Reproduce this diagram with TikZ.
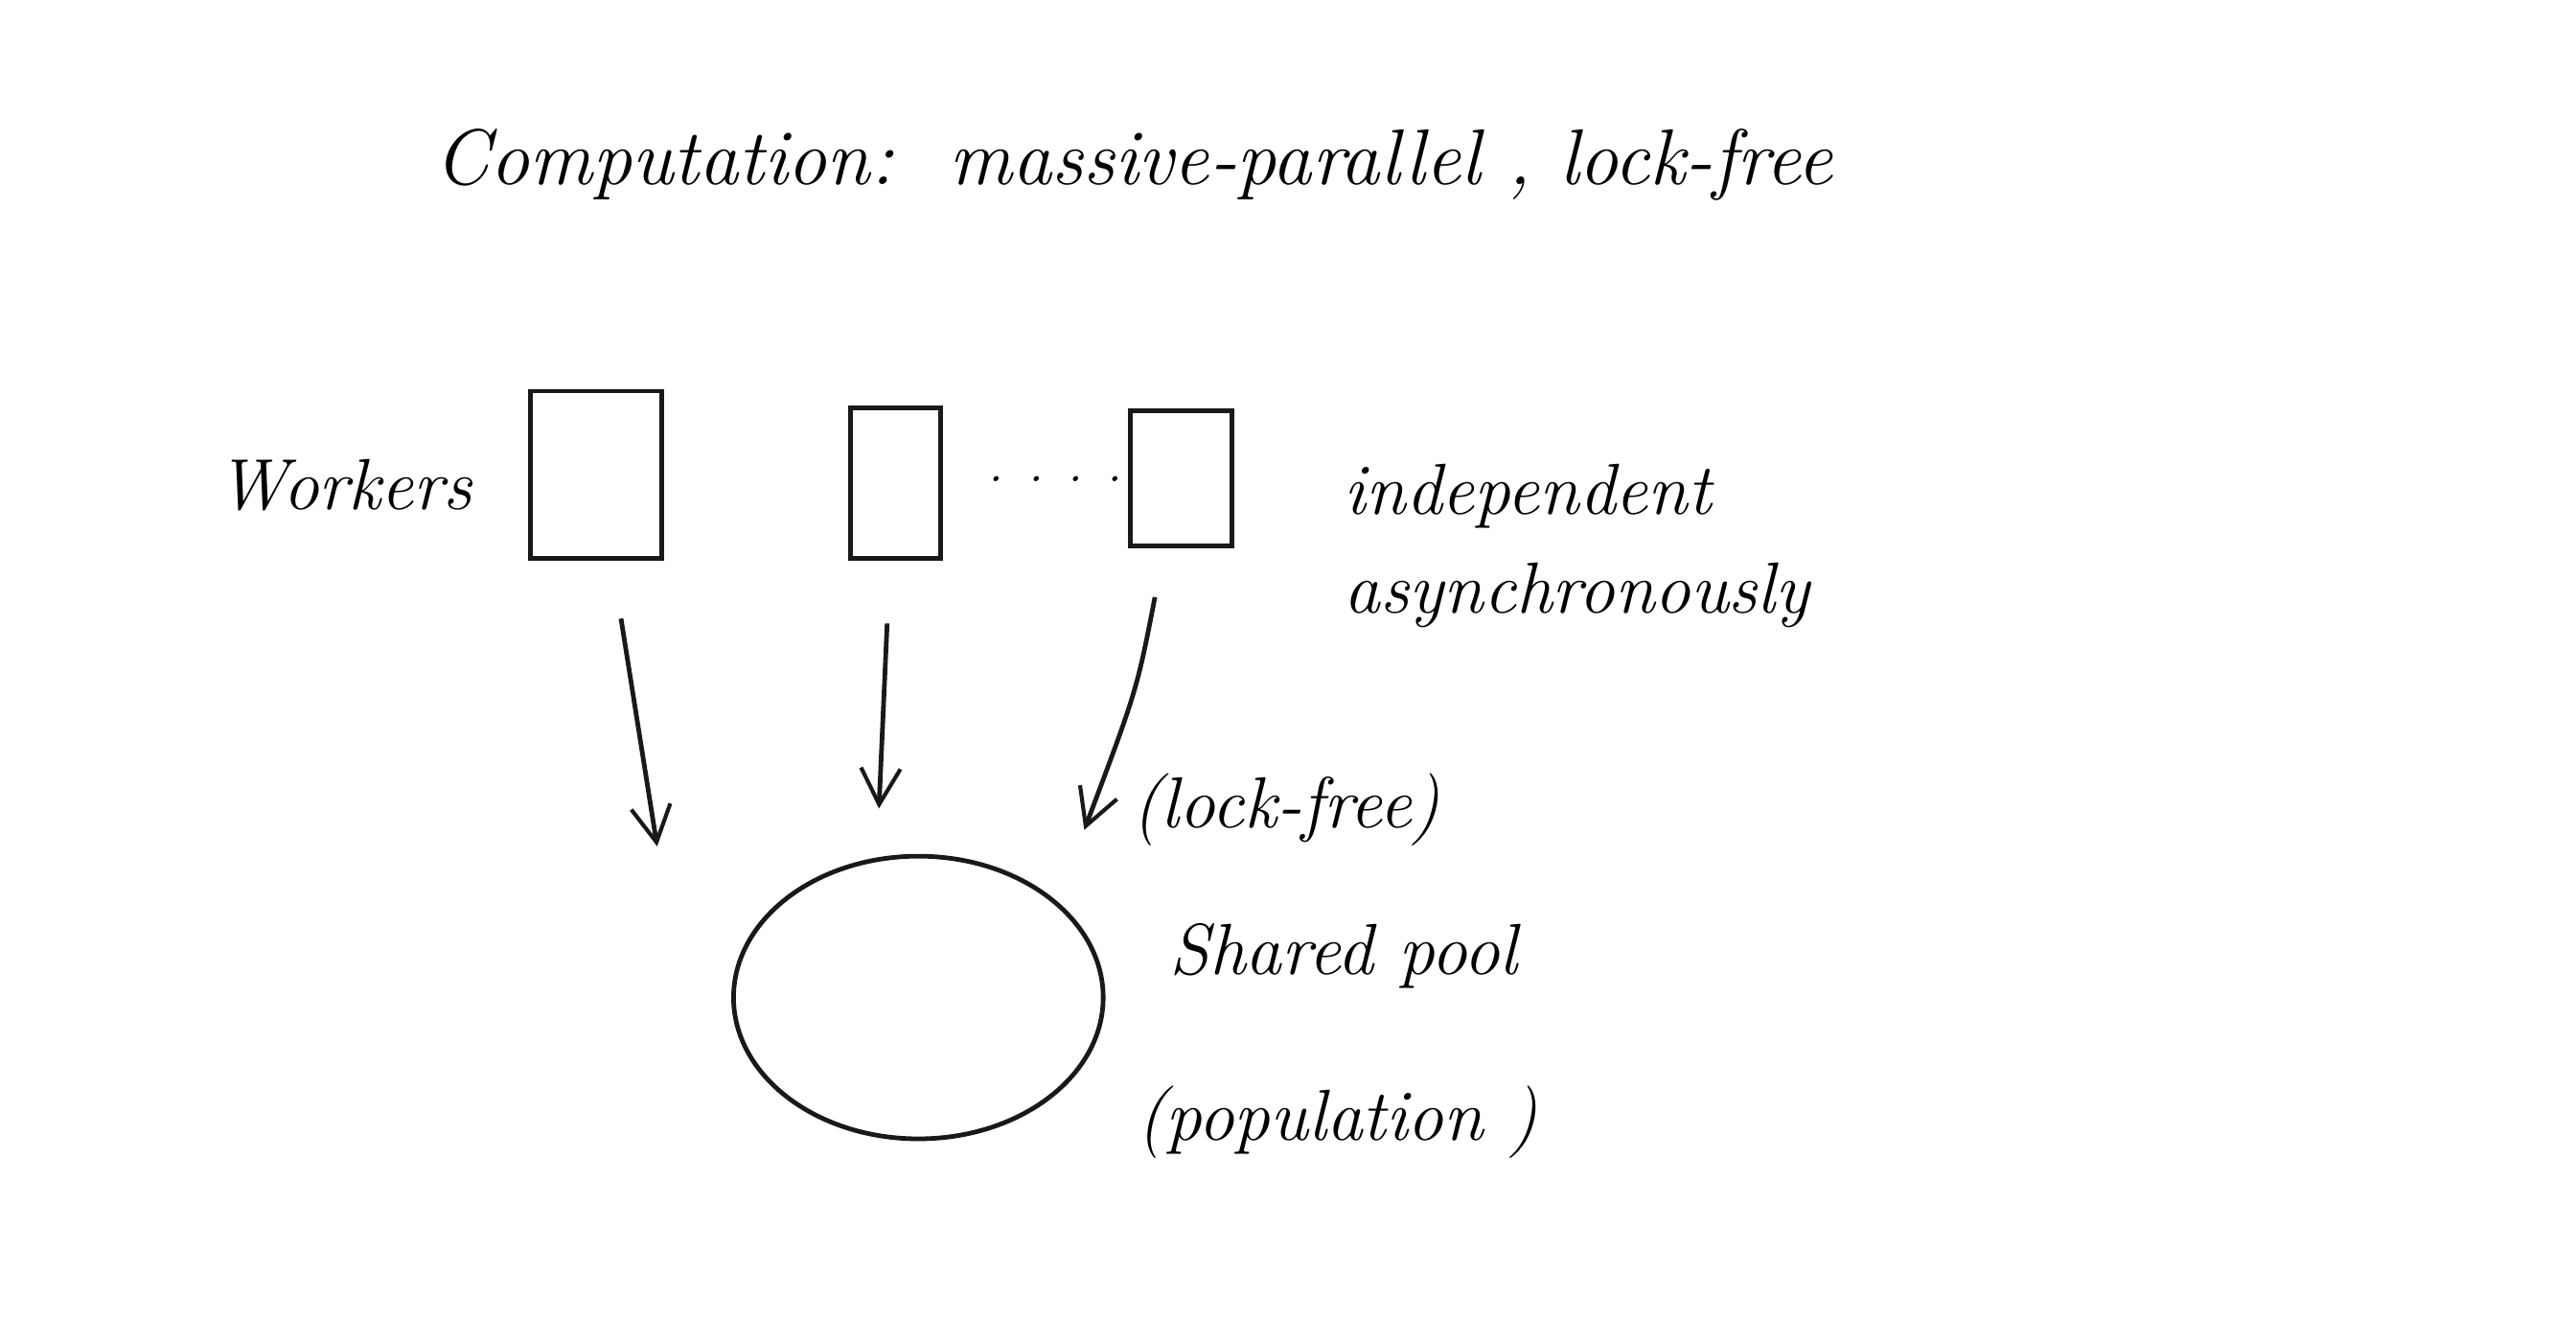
\documentclass[tikz,border=0pt]{standalone}
\usepackage{fontspec}
\usetikzlibrary{shapes.geometric,arrows.meta}
\begin{document}
\begin{tikzpicture}[x=0.5pt,y=-0.5pt,
  ink/.style={draw=black!90,line width=1.4pt},
  lbl/.style={inner sep=0pt,font=\fontsize{22}{26}\selectfont\itshape},
  worker/.style={ink,rectangle,inner sep=0pt},
  arr/.style={ink,-{Straight Barb[length=11pt,width=12pt,line width=1.2pt]}}]
\useasboundingbox[fill=white] (0,0) rectangle (1568,803);
% title
\node[lbl,font=\fontsize{24}{28}\selectfont\itshape] (title) at (690,100) {Computation:\ \ massive-parallel\ ,\ lock-free};
% workers
\node[lbl] (wlabel) at (210,295) {Workers};
\node[worker,minimum width=40pt,minimum height=51pt] (w1) at (363,289) {};
\node[worker,minimum width=27.5pt,minimum height=46pt] (w2) at (545,294) {};
\node[lbl,font=\fontsize{16}{18}\selectfont\itshape] (dots) at (640,296) {\textperiodcentered\textperiodcentered\textperiodcentered\textperiodcentered};
\node[worker,minimum width=31pt,minimum height=41pt] (w3) at (719,291) {};
\node[lbl,anchor=west,align=left] (indep) at (818,332) {independent\\[4pt]asynchronously};
% shared pool
\node[ink,ellipse,minimum width=112.5pt,minimum height=86pt,inner sep=0pt] (pool) at (559,607) {};
\node[lbl] (lockfree) at (783,493) {(lock-free)};
\node[lbl] (shared) at (818,582) {Shared pool};
\node[lbl] (popul) at (814,683) {(population\ )};
% arrows
\coordinate (t1) at (400,515);
\coordinate (t2) at (535,492);
\coordinate (t3) at (660,505);
\draw[arr] (w1.south) ++(15,35) -- (t1);
\draw[arr] (w2.south) ++(-5,38) -- (t2);
\draw[arr] (w3.south) ++(-16,30) .. controls (692,420) .. (t3);
\end{tikzpicture}
\end{document}
